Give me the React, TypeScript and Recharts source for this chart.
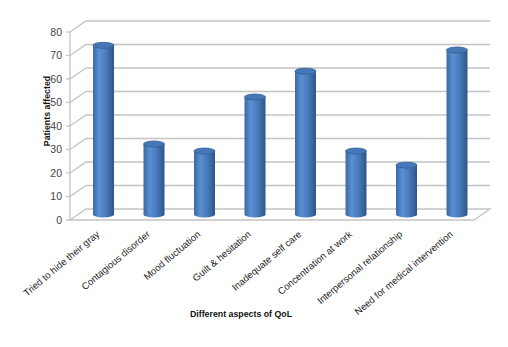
import { BarChart, Bar, XAxis, YAxis, CartesianGrid } from 'recharts';

const categories = [
  'Tried to hide their gray',
  'Contagious disorder',
  'Mood  fluctuation',
  'Guilt & hesitation',
  'Inadequate self care',
  'Concentration at work',
  'Interpersonal relationship',
  'Need for medical intervention',
];
const patients = [72, 30, 27, 50, 61, 27, 21, 70];
const yTicks = [0, 10, 20, 30, 40, 50, 60, 70, 80];

const chartData = categories.map((name, i) => ({ name, patients: patients[i] }));

// 3D depth offsets (back wall vs. front plane)
const DEPTH_X = 16;
const DEPTH_Y = -11;
const PLOT_BOTTOM = 220;

const GridLine = (props: any) => {
  const { x1, y1, x2 } = props;
  if (Math.abs(y1 - PLOT_BOTTOM) < 1) {
    return (
      <path
        d={`M${x1},${y1} L${x2},${y1} L${x2 + DEPTH_X},${y1 + DEPTH_Y} L${x1 + DEPTH_X},${y1 + DEPTH_Y} Z`}
        fill="none"
        stroke="#c4c4c4"
        strokeWidth={1.3}
      />
    );
  }
  return (
    <path
      d={`M${x1},${y1} L${x1 + DEPTH_X},${y1 + DEPTH_Y} L${x2 + DEPTH_X},${y1 + DEPTH_Y}`}
      fill="none"
      stroke="#c4c4c4"
      strokeWidth={1.3}
    />
  );
};

const Cylinder = (props: any) => {
  const { x, y, width, height } = props;
  const dx = DEPTH_X / 2;
  const dy = DEPTH_Y / 2;
  const left = x + dx;
  const right = x + width + dx;
  const cx = left + width / 2;
  const top = y + dy;
  const bottom = y + height + dy;
  const rx = width / 2;
  const ry = 3;
  return (
    <g>
      <path
        d={`M${left},${top} L${left},${bottom} A${rx},${ry} 0 0 0 ${right},${bottom} L${right},${top} Z`}
        fill="url(#cylGrad)"
      />
      <ellipse cx={cx} cy={top} rx={rx} ry={ry} fill="#4677b6" stroke="#345f96" strokeWidth={0.8} />
    </g>
  );
};

const CategoryTick = (props: any) => {
  const { x, payload } = props;
  return (
    <g transform={`translate(${x + 3},${233})`}>
      <text
        x={0}
        y={0}
        dy={3}
        textAnchor="end"
        transform="rotate(-40)"
        fontSize={9.6}
        fill="#222"
        fontFamily="'Liberation Sans', Arial, sans-serif"
      >
        {payload.value}
      </text>
    </g>
  );
};

const YTitle = () => (
  <text
    x={47}
    y={111}
    transform="rotate(-90, 47, 111)"
    textAnchor="middle"
    dominantBaseline="central"
    fontSize={8.8}
    fontWeight="bold"
    fill="#111"
    fontFamily="'Liberation Sans', Arial, sans-serif"
  >
    Patients affected
  </text>
);

const XTitle = () => (
  <text
    x={241}
    y={314}
    textAnchor="middle"
    dominantBaseline="central"
    fontSize={8.8}
    fontWeight="bold"
    fill="#111"
    fontFamily="'Liberation Sans', Arial, sans-serif"
  >
    Different aspects of QoL
  </text>
);

export default function App() {
  return (
    <div style={{ position: 'relative', width: 508, height: 347, margin: -8, background: '#fff' }}>
      <div
        style={{
          position: 'absolute',
          left: 5,
          top: 7,
          right: 0,
          bottom: 0,
          borderLeft: '2px solid #a8a8a8',
          borderTop: '1px solid #dcdcdc',
        }}
      />
      <div style={{ position: 'absolute', left: 0, top: 0 }}>
        <BarChart
          width={508}
          height={347}
          data={chartData}
          margin={{ top: 32, right: 34, left: 0, bottom: 0 }}
          barCategoryGap={0}
        >
          <defs>
            <linearGradient id="cylGrad" x1="0" y1="0" x2="1" y2="0">
              <stop offset="0%" stopColor="#3a6aa6" />
              <stop offset="30%" stopColor="#5a8fd2" />
              <stop offset="60%" stopColor="#4a7dbe" />
              <stop offset="100%" stopColor="#2c5688" />
            </linearGradient>
          </defs>
          <CartesianGrid vertical={false} horizontal={GridLine} />
          <XAxis
            dataKey="name"
            interval={0}
            height={127}
            axisLine={false}
            tickLine={false}
            tick={<CategoryTick />}
            label={<XTitle />}
          />
          <YAxis
            domain={[0, 80]}
            ticks={yTicks}
            width={70}
            axisLine={{ stroke: '#c4c4c4', strokeWidth: 1.3 }}
            tickLine={{ stroke: '#c4c4c4', strokeWidth: 1.3 }}
            tickSize={4}
            tickMargin={4}
            tick={{ fontSize: 10.5, fill: '#444', fontFamily: "'Liberation Sans', Arial, sans-serif" }}
            label={<YTitle />}
          />
          <Bar dataKey="patients" barSize={21} shape={<Cylinder />} isAnimationActive={false} />
        </BarChart>
      </div>
    </div>
  );
}
